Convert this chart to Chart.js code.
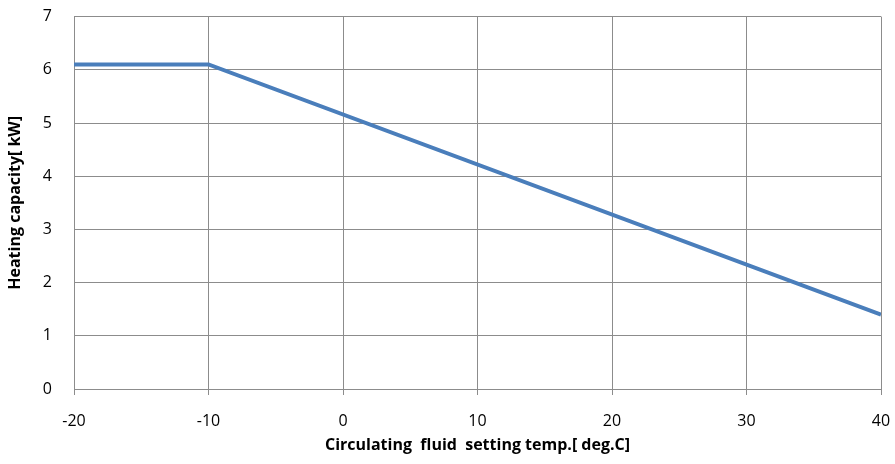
<!DOCTYPE html>
<html>
<head>
<meta charset="utf-8">
<script src="https://cdn.jsdelivr.net/npm/chart.js@4/dist/chart.umd.min.js"></script>
<style>
  html, body { margin: 0; padding: 0; background: #fff; overflow: hidden; }
  #wrap { width: 895px; height: 479px; position: relative; margin-top: -15px; }
</style>
</head>
<body>
<div id="wrap"><canvas id="c"></canvas></div>
<script>
// data
var tempC = [-20, -10, 40];
var capacityKW = [6.1, 6.1, 1.4];
var xTicks = [-20, -10, 0, 10, 20, 30, 40];
var yTicks = [0, 1, 2, 3, 4, 5, 6, 7];

var points = tempC.map(function (t, i) { return { x: t, y: capacityKW[i] }; });

var font = { family: "'Open Sans', 'Liberation Sans', sans-serif", size: 16 };
var titleFont = { family: font.family, size: 16, weight: 'bold' };
var grid = '#8c8c8c';

var config = {
    type: 'scatter',
    data: {
        datasets: [{
            label: 'Heating capacity',
            data: points,
            showLine: true,
            borderColor: '#4a7ebb',
            backgroundColor: '#4a7ebb',
            borderWidth: 4,
            pointRadius: 0,
            tension: 0
        }]
    },
    options: {
        responsive: true,
        maintainAspectRatio: false,
        animation: false,
        layout: { padding: { left: 2, right: 2, top: 0, bottom: 5 } },
        plugins: { legend: { display: false }, tooltip: { enabled: false } },
        scales: {
            x: {
                type: 'linear',
                min: -20, max: 40,
                afterBuildTicks: function (s) { s.ticks = xTicks.map(function (v) { return { value: v }; }); },
                afterFit: function (s) { s.height = 70; s.paddingRight = 14; },
                grid: { color: grid, lineWidth: 1, tickLength: 6, drawTicks: true },
                border: { color: grid },
                ticks: { color: '#000', font: font, padding: 17, maxRotation: 0 },
                title: {
                    display: true,
                    text: 'Circulating  fluid  setting temp.[ deg.C]',
                    color: '#000',
                    font: titleFont,
                    padding: { top: 6 }
                }
            },
            y: {
                min: 0, max: 7,
                afterBuildTicks: function (s) { s.ticks = yTicks.map(function (v) { return { value: v }; }); },
                afterFit: function (s) { s.width = 72; },
                grid: { color: grid, lineWidth: 1, drawTicks: false },
                border: { color: grid },
                ticks: { color: '#000', font: font, padding: 22 },
                title: {
                    display: true,
                    text: 'Heating capacity[ kW]',
                    color: '#000',
                    font: titleFont,
                    padding: { bottom: 2 }
                }
            }
        }
    }
};

window.myChart = new Chart(document.getElementById('c'), config);
</script>
</body>
</html>
